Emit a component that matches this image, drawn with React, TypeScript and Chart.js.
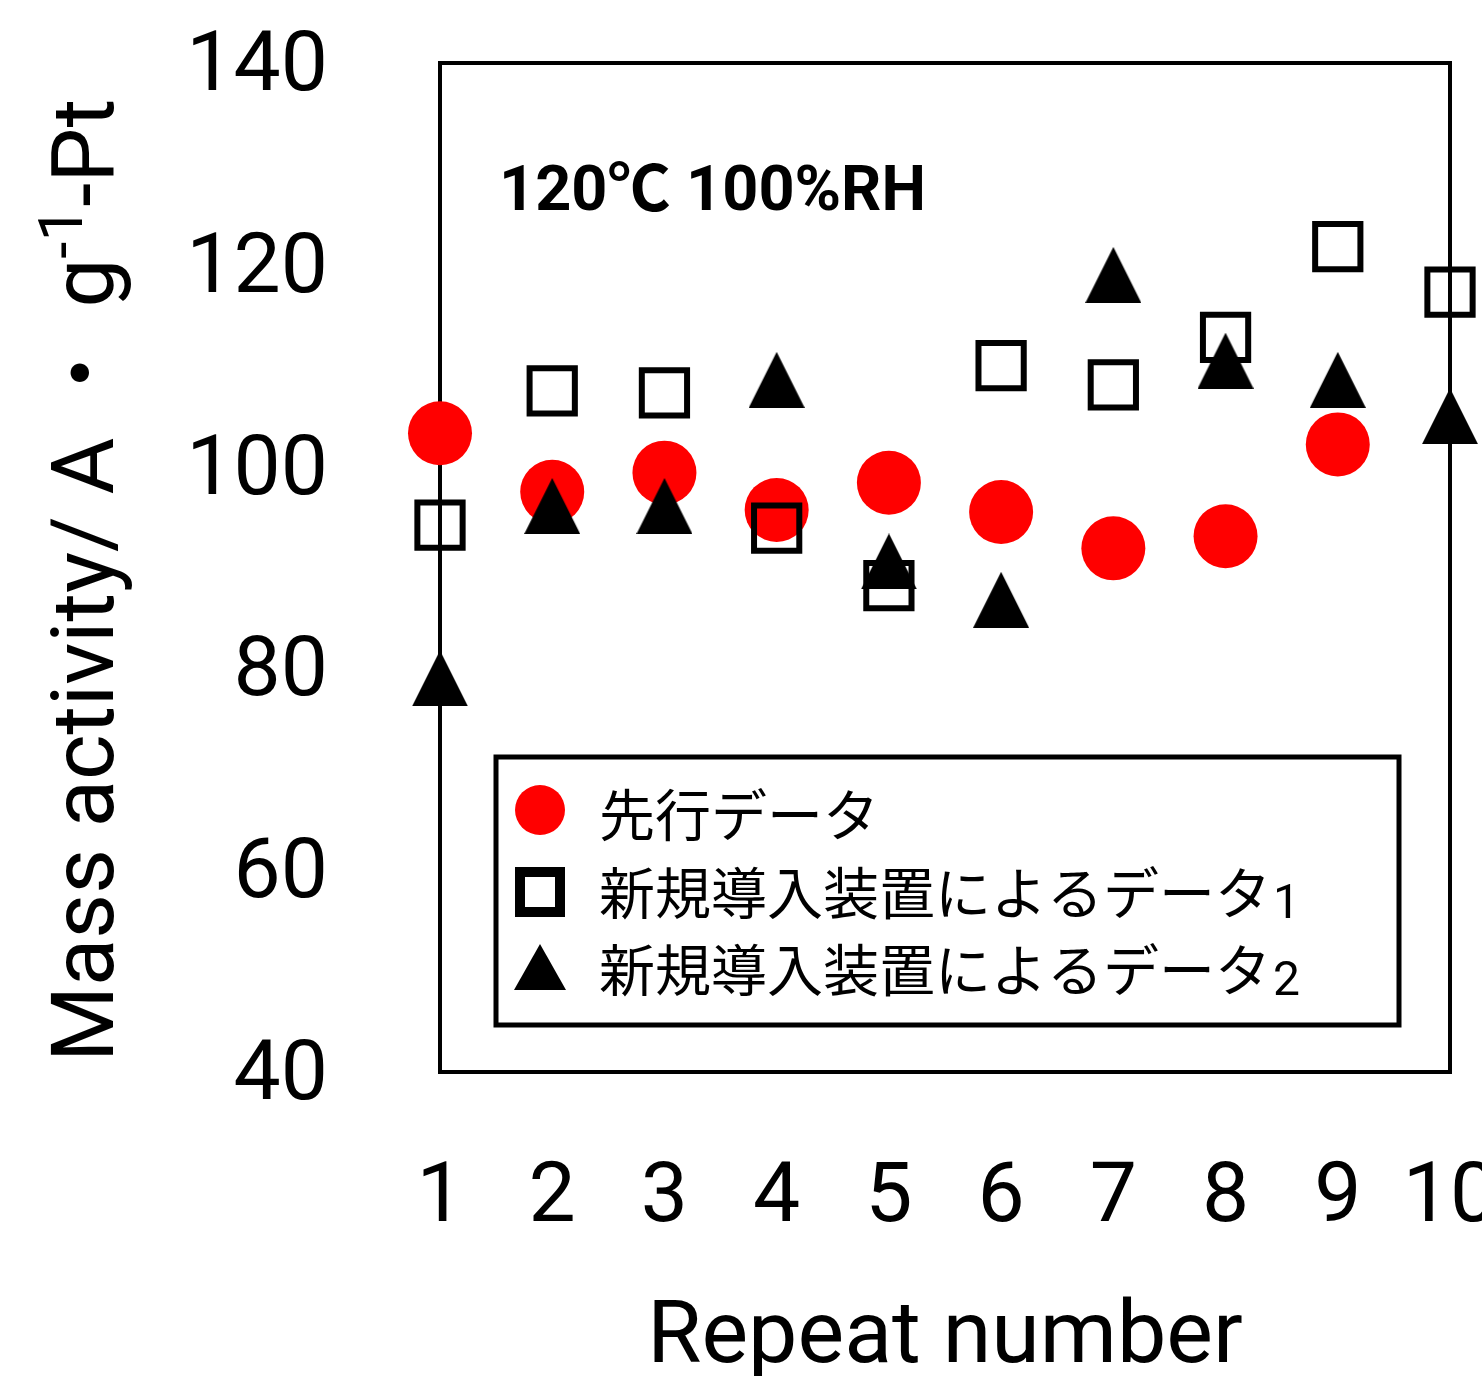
import React, { useEffect, useRef } from 'react';
import { Chart, registerables } from 'chart.js';

Chart.register(...registerables);

// ---- data ----
const repeatNumbers = [1, 2, 3, 4, 5, 6, 7, 8, 9, 10];
const priorData = [103.3, 97.5, 99.4, 95.7, 98.4, 95.5, 91.9, 93.1, 102.2];
const newDevice1 = [94.2, 107.5, 107.3, 93.9, 88.2, 110.0, 108.1, 112.8, 121.8, 117.3];
const newDevice2 = [79.0, 96.1, 96.1, 108.6, 90.6, 86.8, 119.0, 110.5, 108.6, 105.0];
const seriesLabels = ['先行データ', '新規導入装置によるデータ1', '新規導入装置によるデータ2'];
const yTickValues = [40, 60, 80, 100, 120, 140];
const conditionText = '120℃ 100%RH';
const xTitleText = 'Repeat number';
const yTitleSegments = [
  { text: 'Mass activity/ A ・ g', sup: false },
  { text: '-1', sup: true },
  { text: '-Pt', sup: false },
];

const FONT = "Roboto, 'Noto Sans CJK JP', sans-serif";
const CJK = "'Noto Sans CJK JP', sans-serif";

function makeTriangle(w: number, h: number) {
  const c = document.createElement('canvas');
  c.width = w;
  c.height = h;
  const g = c.getContext('2d')!;
  g.fillStyle = '#000';
  g.beginPath();
  g.moveTo(w / 2, 0);
  g.lineTo(w, h);
  g.lineTo(0, h);
  g.closePath();
  g.fill();
  return c;
}

const decorPlugin = {
  id: 'decor',
  beforeDatasetsDraw(chart: any) {
    const { ctx, chartArea: ca } = chart;
    ctx.save();
    ctx.strokeStyle = '#000';
    ctx.lineWidth = 4;
    ctx.strokeRect(ca.left, ca.top, ca.right - ca.left, ca.bottom - ca.top);
    ctx.restore();
  },
  afterDraw(chart: any) {
    const { ctx, chartArea: ca } = chart;
    ctx.save();
    // condition text
    ctx.fillStyle = '#000';
    ctx.font = `bold 63px ${FONT}`;
    ctx.textBaseline = 'alphabetic';
    ctx.textAlign = 'left';
    ctx.fillText(conditionText, ca.left + 59, ca.top + 147);

    // y title with superscript
    ctx.save();
    ctx.translate(113, 1062);
    ctx.rotate(-Math.PI / 2);
    let x = 0;
    for (const seg of yTitleSegments) {
      ctx.font = seg.sup ? `62px ${FONT}` : `87px ${FONT}`;
      ctx.fillText(seg.text, x, seg.sup ? -31 : 0);
      x += ctx.measureText(seg.text).width;
    }
    ctx.restore();

    // legend box
    const lx = ca.left + 56;
    const ly = ca.top + 694;
    const lw = 903;
    const lh = 268;
    ctx.lineWidth = 5;
    ctx.strokeStyle = '#000';
    ctx.strokeRect(lx, ly, lw, lh);
    const rows = [
      { my: 53, ty: 58 },
      { my: 135, ty: 136 },
      { my: 211, ty: 213 },
    ];
    chart.data.datasets.forEach((ds: any, i: number) => {
      const r = rows[i];
      const mx = lx + 44;
      const my = ly + r.my;
      if (ds.pointStyle === 'circle') {
        ctx.fillStyle = ds.backgroundColor;
        ctx.beginPath();
        ctx.arc(mx, my, 25, 0, Math.PI * 2);
        ctx.fill();
      } else if (ds.pointStyle === 'rect') {
        ctx.strokeStyle = '#000';
        ctx.lineWidth = 10;
        ctx.strokeRect(mx - 20, my - 20, 40, 40);
      } else {
        ctx.fillStyle = '#000';
        ctx.beginPath();
        ctx.moveTo(mx, my - 24);
        ctx.lineTo(mx + 26, my + 22);
        ctx.lineTo(mx - 26, my + 22);
        ctx.closePath();
        ctx.fill();
      }
      const label: string = ds.label;
      const m = label.match(/^(.*?)(\d*)$/);
      const main = m ? m[1] : label;
      const digit = m ? m[2] : '';
      const tx = lx + 103;
      const ty = ly + r.ty;
      ctx.fillStyle = '#000';
      ctx.font = `56px ${CJK}`;
      ctx.textBaseline = 'middle';
      ctx.fillText(main, tx, ty);
      const w = ctx.measureText(main).width;
      if (digit) {
        ctx.font = `48px ${FONT}`;
        ctx.textBaseline = 'alphabetic';
        ctx.fillText(digit, tx + w + 2, ty + 25);
      }
    });
    ctx.restore();
  },
};

export default function App() {
  const ref = useRef<HTMLCanvasElement>(null);
  useEffect(() => {
    if (!ref.current) return;
    const tri = makeTriangle(56, 56);
    const chart = new Chart(ref.current, {
      type: 'scatter',
      data: {
        datasets: [
          {
            label: seriesLabels[0],
            data: priorData.map((y, i) => ({ x: repeatNumbers[i], y })),
            pointStyle: 'circle',
            pointRadius: 32,
            backgroundColor: '#ff0000',
            borderWidth: 0,
            order: 3,
            clip: false,
          } as any,
          {
            label: seriesLabels[1],
            data: newDevice1.map((y, i) => ({ x: repeatNumbers[i], y })),
            pointStyle: 'rect',
            pointRadius: 32,
            backgroundColor: 'rgba(0,0,0,0)',
            borderColor: '#000',
            borderWidth: 6,
            order: 2,
            clip: false,
          } as any,
          {
            label: seriesLabels[2],
            data: newDevice2.map((y, i) => ({ x: repeatNumbers[i], y })),
            pointStyle: tri,
            pointRadius: 28,
            backgroundColor: '#000',
            borderWidth: 0,
            order: 1,
            clip: false,
          } as any,
        ],
      },
      options: {
        animation: false,
        responsive: false,
        devicePixelRatio: 1,
        layout: { autoPadding: false, padding: { left: 0, top: 63, right: 32, bottom: 0 } },
        plugins: { legend: { display: false }, tooltip: { enabled: false } },
        scales: {
          x: {
            type: 'linear',
            min: 1,
            max: 10,
            afterBuildTicks: (s: any) => {
              s.ticks = repeatNumbers.map((v) => ({ value: v }));
            },
            grid: { display: false },
            border: { display: false },
            ticks: {
              padding: 70,
              autoSkip: false,
              maxRotation: 0,
              color: '#000',
              font: { size: 84, family: FONT },
            },
            title: {
              display: true,
              text: xTitleText,
              color: '#000',
              font: { size: 88, family: FONT, lineHeight: 0.9 },
              padding: { top: 0, bottom: -4 },
            },
            afterFit: (s: any) => {
              s.height = 304;
              s.paddingLeft = 0;
              s.paddingRight = 0;
            },
          },
          y: {
            type: 'linear',
            min: 40,
            max: 140,
            afterBuildTicks: (s: any) => {
              s.ticks = yTickValues.map((v) => ({ value: v }));
            },
            grid: { display: false },
            border: { display: false },
            ticks: {
              padding: 104,
              labelOffset: 6,
              color: '#000',
              font: { size: 84, family: FONT },
            },
            afterFit: (s: any) => {
              s.width = 440;
              s.paddingTop = 0;
              s.paddingBottom = 0;
            },
          },
        },
      } as any,
      plugins: [decorPlugin],
    });
    return () => chart.destroy();
  }, []);
  return (
    <div style={{ position: 'absolute', left: 0, top: 0, width: 1482, height: 1376, background: '#fff' }}>
      <canvas ref={ref} width={1482} height={1376} style={{ display: 'block' }} />
    </div>
  );
}
